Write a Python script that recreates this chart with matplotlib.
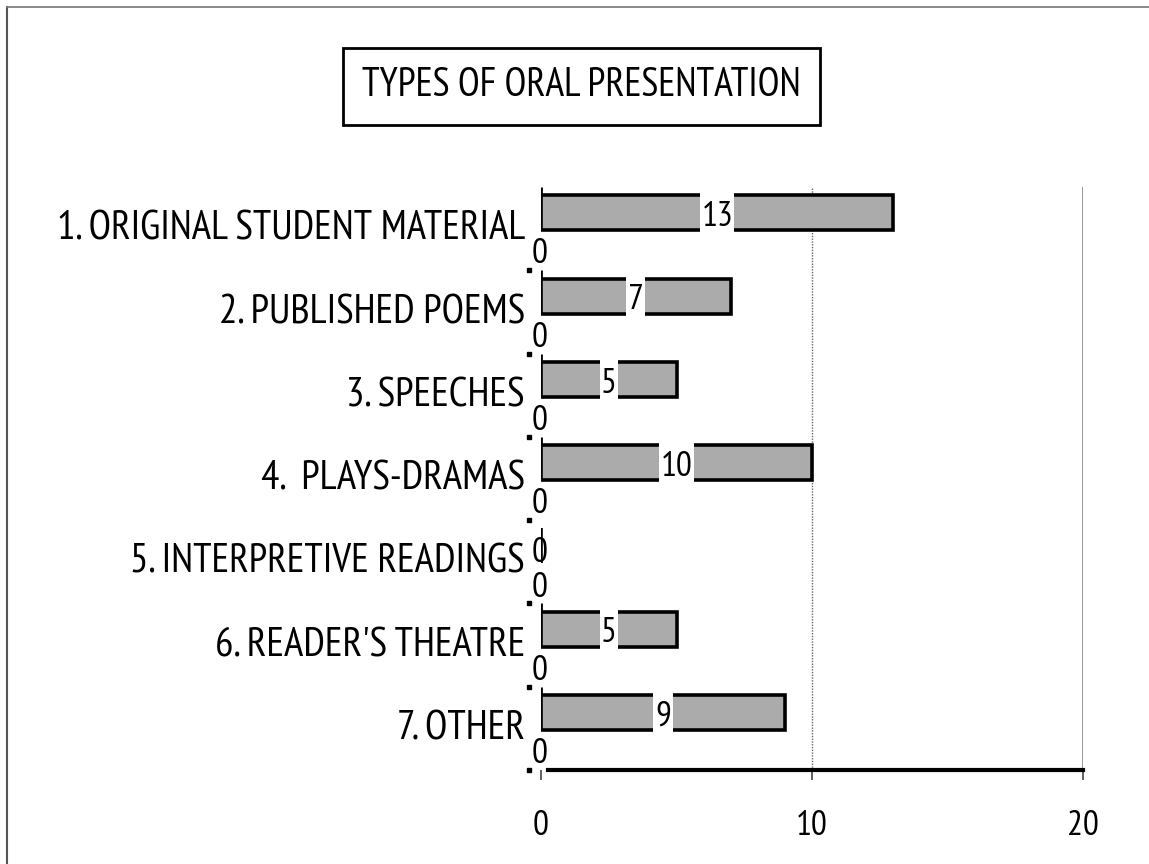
import matplotlib
matplotlib.use("Agg")
import matplotlib.pyplot as plt
from matplotlib import font_manager
from matplotlib.font_manager import FontProperties
from matplotlib.textpath import TextPath
from matplotlib.patches import Rectangle
from matplotlib.lines import Line2D
import numpy as np

categories = ["1. ORIGINAL STUDENT MATERIAL", "2. PUBLISHED POEMS", "3. SPEECHES",
              "4.  PLAYS-DRAMAS", "5. INTERPRETIVE READINGS", "6. READER'S THEATRE", "7. OTHER"]
counts = [13, 7, 5, 10, 0, 5, 9]
second_series = [0, 0, 0, 0, 0, 0, 0]
xticks = [0, 10, 20]
title = "TYPES OF ORAL PRESENTATION"

names = {f.name for f in font_manager.fontManager.ttflist}
family = "DejaVu Sans"
for cand in ["Liberation Sans Narrow", "Arial Narrow", "Nimbus Sans Narrow", "PT Sans Narrow",
             "Sofia Sans Condensed", "Roboto Condensed"]:
    if cand in names:
        family = cand
        break
plt.rcParams['font.family'] = [family, 'DejaVu Sans']
FP = FontProperties(family=[family, 'DejaVu Sans'])

DPI = 100
W, H = 1149, 864


def extent(s):
    return TextPath((0, 0), s, size=72, prop=FP).get_extents()


def size_for_width(s, px):
    return px * 72 / (extent(s).width / 72 * DPI)


def size_for_height(s, px):
    return px * 72 / (extent(s).height / 72 * DPI)


def width_px(s, fs):
    return extent(s).width / 72 * fs * DPI / 72


cat_fs = size_for_width(categories[0], 465)
title_fs = size_for_width(title, 438)
num_fs = size_for_height("0", 25.5)

fig = plt.figure(figsize=(W / DPI, H / DPI), dpi=DPI)


def fx(px):
    return px / W


def fy(py):
    return 1 - py / H


ax_left, ax_right = 541, 1083
ax = fig.add_axes([fx(ax_left), fy(770), fx(ax_right) - fx(ax_left), fy(187) - fy(770)])

n = len(categories)
grp = np.arange(n)
bh = 0.42
main_y = grp + 0.31
zero_y = grp + 0.73
xmax = 20
px_per_unit = (ax_right - ax_left) / xmax

ax.barh(main_y, counts, height=bh, color="#ababab", edgecolor="black", linewidth=2.6, zorder=3)
ax.barh(zero_y, second_series, height=bh, color="#ababab", edgecolor="none", linewidth=0, zorder=3)

# left edge segments from group top down to bars
for g, v in zip(grp, counts):
    if v > 0:
        ax.plot([0, 0], [g + 0.0, g + 0.1], color="black", linewidth=2, zorder=4, solid_capstyle="butt")

for y, v in zip(main_y, counts):
    if v > 0:
        gap = (width_px(str(v), num_fs) + 7) / px_per_unit
        ax.add_patch(Rectangle((v / 2 - gap / 2, y - bh / 2 - 0.03), gap, bh + 0.06,
                               facecolor="white", edgecolor="none", zorder=4))
        ax.text(v / 2, y + 0.05, str(v), ha="center", va="center", fontsize=num_fs, zorder=5)
    else:
        ax.text(-0.04, y + 0.09, str(v), ha="center", va="center", fontsize=num_fs, zorder=5)
for y, v in zip(zero_y, second_series):
    ax.text(-0.04, y + 0.08, str(v), ha="center", va="center", fontsize=num_fs, zorder=5)

ax.set_xlim(0, xmax)
ax.set_ylim(n, 0)
ax.set_yticks(grp + 0.46)
ax.set_yticklabels(categories, fontsize=cat_fs)
ax.tick_params(axis="y", length=0, pad=16 * 72 / DPI)
ax.set_xticks(xticks)
ax.set_xticklabels([str(t) for t in xticks], fontsize=num_fs)
ax.tick_params(axis="x", length=7, width=1.2, direction="out", pad=30 * 72 / DPI, color="#444444")

ax.axvline(10, color="#666666", linewidth=1, linestyle=(0, (1, 1)), zorder=1)
ax.axvline(20, color="#888888", linewidth=1.2, zorder=1)

for s in ["top", "right", "left"]:
    ax.spines[s].set_visible(False)
ax.spines["bottom"].set_linewidth(3)
ax.spines["bottom"].set_bounds(0.25, 20)

# small y tick dots at group boundaries
for b in range(1, n + 1):
    ax.plot([-0.44], [b], marker="s", markersize=2.2, color="black", clip_on=False, zorder=5)

# title box
fig.patches.append(Rectangle((fx(343), fy(125)), fx(820) - fx(343), fy(48) - fy(125),
                             transform=fig.transFigure, facecolor="white",
                             edgecolor="black", linewidth=2))
fig.text(fx(581), fy(86), title, ha="center", va="center", fontsize=title_fs)

# page border (left and top)
fig.add_artist(Line2D([fx(7), fx(7)], [fy(7), 0], transform=fig.transFigure, color="#555555", linewidth=1.5))
fig.add_artist(Line2D([fx(7), 1], [fy(7), fy(7)], transform=fig.transFigure, color="#777777", linewidth=1.2))

fig.savefig("out.png", dpi=DPI)
